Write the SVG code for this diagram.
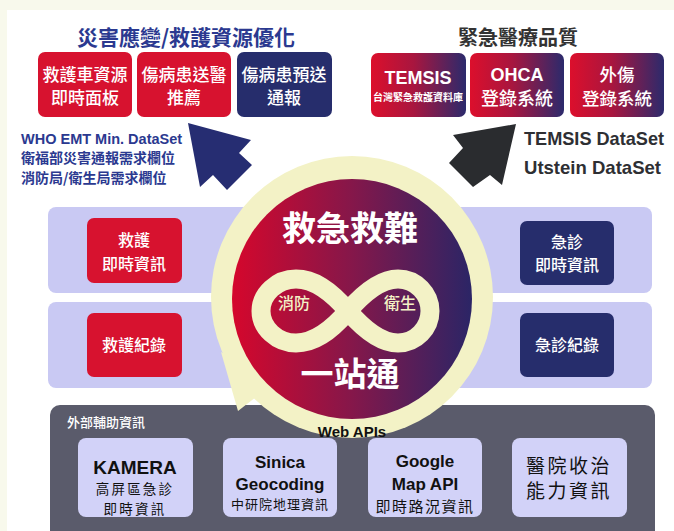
<svg xmlns="http://www.w3.org/2000/svg" width="674" height="531" viewBox="0 0 674 531">
<defs>
<linearGradient id="gRB" x1="0" y1="0" x2="1" y2="0">
<stop offset="0" stop-color="#dc0f2c"/>
<stop offset="0.45" stop-color="#a8163f"/>
<stop offset="1" stop-color="#2b2a6c"/>
</linearGradient>
<linearGradient id="gDisc" x1="0" y1="0" x2="1" y2="0">
<stop offset="0" stop-color="#d5072c"/>
<stop offset="0.5" stop-color="#85174a"/>
<stop offset="1" stop-color="#2b2566"/>
</linearGradient>
<style>
.t{font-family:'Liberation Sans','Noto Sans CJK TC',sans-serif}
.c{font-family:'Noto Sans CJK TC','Liberation Sans',sans-serif}
.red{fill:#d7122f}
.navy{fill:#262d6c}
.band{fill:#c9c9f3}
.lite{fill:#d2d2f8}
.w{fill:#ffffff}
.m{text-anchor:middle}
.cream{fill:#f3f2c6}
</style>
</defs>
<rect x="0" y="0" width="674" height="531" fill="#f8f9ec"/>
<rect x="7" y="10" width="667" height="521" fill="#ffffff"/>

<!-- titles -->
<text class="c m" x="186" y="45" font-size="21" font-weight="bold" fill="#2b3990">災害應變/救護資源優化</text>
<text class="c m" x="518" y="45" font-size="20" font-weight="bold" fill="#333333">緊急醫療品質</text>

<!-- top-left boxes -->
<g id="ambulance-dashboard">
<rect class="red" x="38" y="52" width="94" height="65" rx="7"/>
<text class="c m w" x="85" y="81" font-size="17" font-weight="500">救護車資源</text>
<text class="c m w" x="85" y="104" font-size="17" font-weight="500">即時面板</text>
</g>
<g id="hospital-recommend">
<rect class="red" x="137" y="52" width="94" height="65" rx="7"/>
<text class="c m w" x="184" y="81" font-size="17" font-weight="500">傷病患送醫</text>
<text class="c m w" x="184" y="104" font-size="17" font-weight="500">推薦</text>
</g>
<g id="pre-notification">
<rect class="navy" x="237" y="52" width="95" height="65" rx="7"/>
<text class="c m w" x="284" y="81" font-size="17" font-weight="500">傷病患預送</text>
<text class="c m w" x="284" y="104" font-size="17" font-weight="500">通報</text>
</g>

<!-- top-right boxes -->
<g id="temsis">
<rect x="371" y="53" width="95" height="64" rx="7" fill="url(#gRB)"/>
<text class="t m w" x="418" y="84" font-size="18" font-weight="bold">TEMSIS</text>
<text class="c m w" x="418" y="101" font-size="10" font-weight="bold">台灣緊急救護資料庫</text>
</g>
<g id="ohca">
<rect x="470" y="53" width="94" height="64" rx="7" fill="url(#gRB)"/>
<text class="t m w" x="517" y="81" font-size="18" font-weight="bold">OHCA</text>
<text class="c m w" x="517" y="105" font-size="18" font-weight="500">登錄系統</text>
</g>
<g id="trauma">
<rect x="570" y="53" width="94" height="64" rx="7" fill="url(#gRB)"/>
<text class="c m w" x="617" y="81" font-size="17.5" font-weight="500">外傷</text>
<text class="c m w" x="617" y="105" font-size="17.5" font-weight="500">登錄系統</text>
</g>

<!-- side notes -->
<text class="t" x="21" y="144" font-size="14.5" font-weight="bold" fill="#2b3990">WHO EMT Min. DataSet</text>
<text class="c" x="21" y="163" font-size="14" font-weight="bold" fill="#2b3990">衛福部災害通報需求欄位</text>
<text class="c" x="21" y="183" font-size="14" font-weight="bold" fill="#2b3990">消防局/衛生局需求欄位</text>
<text class="t" x="524" y="145" font-size="19" font-weight="bold" fill="#2e2f33" textLength="140" lengthAdjust="spacingAndGlyphs">TEMSIS DataSet</text>
<text class="t" x="524" y="174" font-size="19" font-weight="bold" fill="#2e2f33" textLength="137" lengthAdjust="spacingAndGlyphs">Utstein DataSet</text>

<!-- bands -->
<g id="band-realtime"><rect class="band" x="48" y="207" width="604" height="86" rx="8"/></g>
<g id="band-records"><rect class="band" x="48" y="302" width="604" height="86" rx="8"/></g>

<g id="ems-realtime">
<rect class="red" x="87" y="218" width="95" height="65" rx="7"/>
<text class="c m w" x="134" y="246" font-size="16" font-weight="500">救護</text>
<text class="c m w" x="134" y="270" font-size="16" font-weight="500">即時資訊</text>
</g>
<g id="ems-records">
<rect class="red" x="87" y="313" width="95" height="64" rx="7"/>
<text class="c m w" x="134" y="351" font-size="16" font-weight="500">救護紀錄</text>
</g>
<g id="er-realtime">
<rect class="navy" x="520" y="221" width="94" height="64" rx="7"/>
<text class="c m w" x="567" y="248" font-size="16" font-weight="500">急診</text>
<text class="c m w" x="567" y="271" font-size="16" font-weight="500">即時資訊</text>
</g>
<g id="er-records">
<rect class="navy" x="520" y="313" width="94" height="64" rx="7"/>
<text class="c m w" x="567" y="351" font-size="16" font-weight="500">急診紀錄</text>
</g>

<!-- bottom panel -->
<g id="external-info">
<rect x="50" y="405" width="605" height="140" rx="10" fill="#5a5b6b"/>
<text class="c w" x="67" y="427" font-size="13" font-weight="500">外部輔助資訊</text>
</g>
<g id="kamera">
<rect class="lite" x="78" y="438" width="115" height="79" rx="8"/>
<text class="t m" x="135" y="474" font-size="19" font-weight="bold" fill="#111">KAMERA</text>
<text class="c m" x="135" y="494" font-size="13.5" letter-spacing="2.2" fill="#111">高屏區急診</text>
<text class="c m" x="135" y="514" font-size="13.5" letter-spacing="2.2" fill="#111">即時資訊</text>
</g>
<g id="sinica">
<rect class="lite" x="223" y="438" width="114" height="79" rx="8"/>
<text class="t m" x="280" y="468" font-size="17" font-weight="bold" fill="#111">Sinica</text>
<text class="t m" x="280" y="490" font-size="17" font-weight="bold" fill="#111">Geocoding</text>
<text class="c m" x="280" y="509" font-size="13" letter-spacing="1" fill="#111">中研院地理資訊</text>
</g>
<g id="google-map">
<rect class="lite" x="368" y="438" width="114" height="79" rx="8"/>
<text class="t m" x="425" y="467" font-size="17" font-weight="bold" fill="#111">Google</text>
<text class="t m" x="425" y="490" font-size="17" font-weight="bold" fill="#111">Map API</text>
<text class="c m" x="425" y="512" font-size="15" letter-spacing="1.5" fill="#111">即時路況資訊</text>
</g>
<g id="hospital-capacity">
<rect class="lite" x="512" y="438" width="115" height="79" rx="8"/>
<text class="c m" x="569" y="473" font-size="19" letter-spacing="2.5" fill="#111">醫院收治</text>
<text class="c m" x="569" y="498" font-size="19" letter-spacing="2.5" fill="#111">能力資訊</text>
</g>

<!-- hub -->
<g id="hub">
<circle class="cream" cx="352" cy="297" r="141"/>
<polygon class="cream" points="221,352 238,411 275,382"/>
<circle cx="352" cy="299" r="120" fill="url(#gDisc)"/>
<path d="M348,311 C329,289 313,279 296,279 C277,279 261,294 261,311 C261,328 277,343 296,343 C313,343 329,333 348,311 C367,289 383,279 398,279 C416,279 430,294 430,311 C430,328 416,343 398,343 C383,343 367,333 348,311 Z" fill="none" stroke="#f3f2c6" stroke-width="19"/>
<text class="c m w" x="350" y="241" font-size="34" font-weight="bold">救急救難</text>
<text class="c m" x="294" y="309" font-size="16" font-weight="500" fill="#f3f2c6">消防</text>
<text class="c m" x="400" y="309" font-size="16" font-weight="500" fill="#f3f2c6">衛生</text>
<text class="c m w" x="350" y="386" font-size="33" font-weight="bold">一站通</text>
<text class="t m" x="352" y="437" font-size="15" font-weight="bold" fill="#111">Web APIs</text>
</g>

<!-- connectors -->
<g id="connectors">
<polygon points="188,123 251,140 239,153 252,165 227,190 213,175 200,187" fill="#262d72"/>
<polygon points="516,124 453,135 463,148 449,163 473,187 490,175 502,185" fill="#2a2c2f"/>
</g>
</svg>
